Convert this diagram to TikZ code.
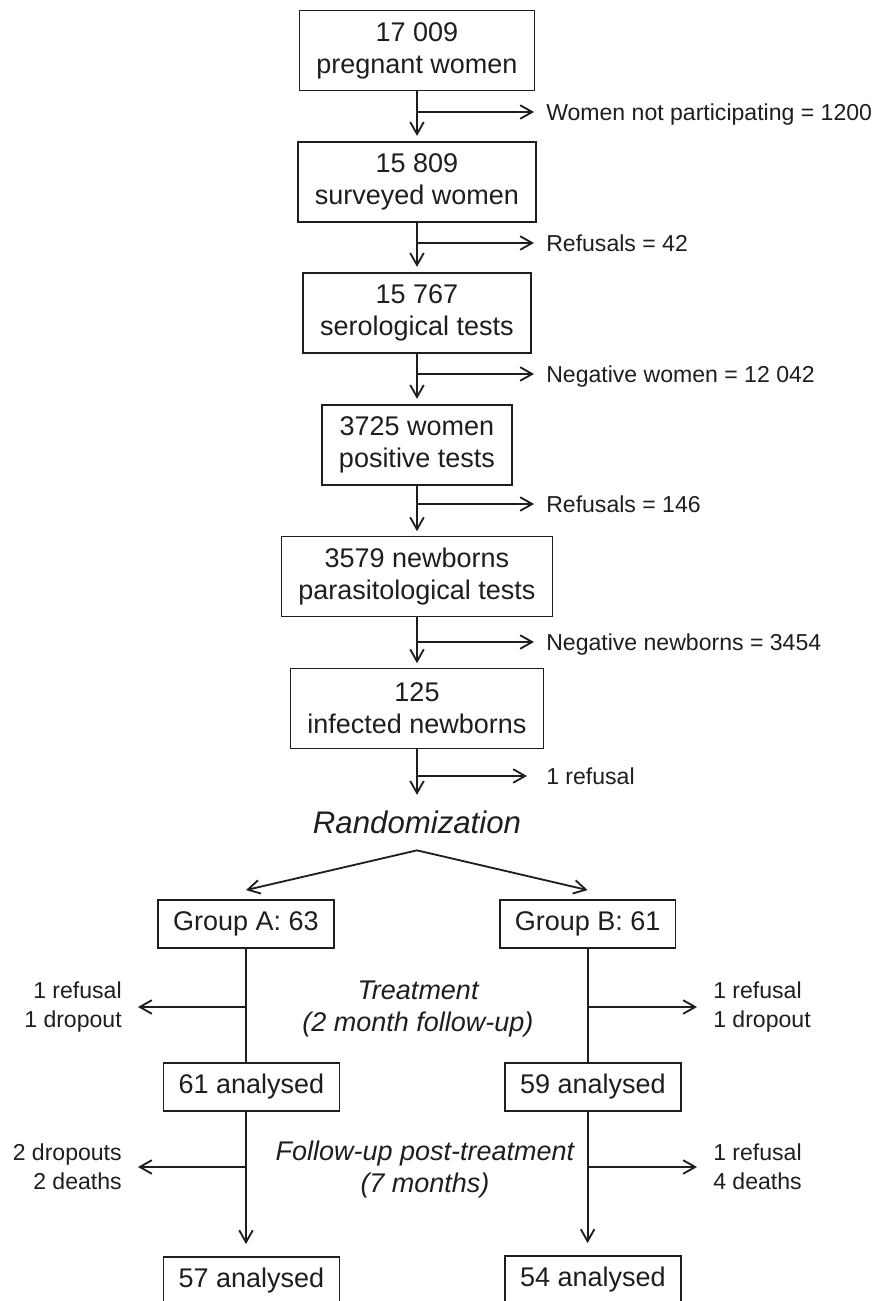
\documentclass[tikz,border=0pt]{standalone}
\usepackage{fontspec}
\setsansfont{Liberation Sans}
\usetikzlibrary{arrows.meta,positioning,calc}
\definecolor{ink}{HTML}{1E1E1E}
\tikzset{
  boxtext/.style={font=\sffamily\fontsize{19.2}{22.8}\selectfont,text=ink},
  flowbox/.style={boxtext,draw=ink,line width=1.3pt,fill=white,align=center,inner xsep=4.25mm,minimum height=2cm},
  smallbox/.style={boxtext,draw=ink,line width=1.3pt,fill=white,inner xsep=3.8mm,minimum height=1.2cm},
  sidefont/.style={font=\sffamily\fontsize{16.4}{20.6}\selectfont,text=ink,inner sep=0pt},
  side/.style={sidefont,anchor=west,text height=0.41cm,text depth=0pt},
  sidetwo/.style={sidefont},
  note/.style={font=\sffamily\itshape\fontsize{19.2}{22.8}\selectfont,text=ink,align=center},
  link/.style={draw=ink,line width=1.3pt},
  arr/.style={-{Straight Barb[length=3mm,width=3.4mm]},draw=ink,line width=1.3pt}
}
\begin{document}
\begin{tikzpicture}[x=1cm,y=1cm]
\path[use as bounding box] (0,0) rectangle (21.925,32.525);
\clip (0,0) rectangle (21.925,32.525);
% screening chain
\node[flowbox] (preg) at (10.425,31.2625) {17 009\\pregnant women};
\node[flowbox] (surv) at (10.425,27.975) {15 809\\surveyed women};
\node[flowbox] (sero) at (10.425,24.7) {15 767\\serological tests};
\node[flowbox] (posi) at (10.425,21.4) {3725 women\\positive tests};
\node[flowbox] (para) at (10.425,18.1125) {3579 newborns\\parasitological tests};
\node[flowbox] (infe) at (10.425,14.8125) {125\\infected newborns};
\node[note,font=\sffamily\itshape\fontsize{22.2}{26}\selectfont,inner ysep=4mm] (rand) at (10.425,11.96) {Randomization};
\node[side] (out1) at (13.65,29.725) {Women not participating = 1200};
\node[side] (out2) at (13.65,26.45) {Refusals = 42};
\node[side] (out3) at (13.65,23.175) {Negative women = 12 042};
\node[side] (out4) at (13.65,19.925) {Refusals = 146};
\node[side] (out5) at (13.65,16.475) {Negative newborns = 3454};
\node[side] (out6) at (13.65,13.125) {1 refusal};
\draw[arr,shorten >=1.3mm] (preg) -- (surv);
\draw[arr,shorten >=1.3mm] (surv) -- (sero);
\draw[arr,shorten >=1.3mm] (sero) -- (posi);
\draw[arr,shorten >=1.1mm] (posi) -- (para);
\draw[arr,shorten >=1.1mm] (para) -- (infe);
\draw[arr] (infe) -- (rand);
\draw[arr] (preg.south |- out1.west) -- ([xshift=-3mm]out1.west);
\draw[arr] (surv.south |- out2.west) -- ([xshift=-3mm]out2.west);
\draw[arr] (sero.south |- out3.west) -- ([xshift=-3mm]out3.west);
\draw[arr] (posi.south |- out4.west) -- ([xshift=-3mm]out4.west);
\draw[arr] (para.south |- out5.west) -- ([xshift=-3mm]out5.west);
\draw[arr] (infe.south |- out6.west) -- ([xshift=-4.75mm]out6.west);
% two arms
\node[smallbox] (grpA) at (6.15,9.43) {Group A: 63};
\node[smallbox] (grpB) at (14.69,9.43) {Group B: 61};
\node[smallbox] (anaA) at (6.2875,5.36) {61 analysed};
\node[smallbox] (anaB) at (14.825,5.36) {59 analysed};
\node[smallbox] (finA) at (6.2875,0.5) {57 analysed};
\node[smallbox] (finB) at (14.825,0.525) {54 analysed};
\draw[arr] (rand.south) -- ([yshift=2.2mm]grpA.north);
\draw[arr] (rand.south) -- ([yshift=2.2mm]grpB.north);
\draw[link] (grpA.south) -- (grpA.south |- anaA.north);
\draw[link] (grpB.south) -- (grpB.south |- anaB.north);
\draw[arr,shorten >=3mm] (grpA.south |- anaA.south) -- (grpA.south |- finA.north);
\draw[arr,shorten >=3mm] (grpB.south |- anaB.south) -- (grpB.south |- finB.north);
\node[note] (treat) at (10.45,7.3) {Treatment\\(2 month follow-up)};
\node[note] (post) at (10.625,3.2875) {Follow-up post-treatment\\(7 months)};
\node[sidetwo,anchor=east,align=right] (lossA1) at (3.05,7.35) {1 refusal\\1 dropout};
\node[sidetwo,anchor=west,align=left] (lossB1) at (17.825,7.35) {1 refusal\\1 dropout};
\node[sidetwo,anchor=east,align=right] (lossA2) at (3.05,3.35) {2 dropouts\\2 deaths};
\node[sidetwo,anchor=west,align=left] (lossB2) at (17.825,3.35) {1 refusal\\4 deaths};
\draw[arr] (grpA.south |- lossA1.east) -- ([xshift=4mm]lossA1.east);
\draw[arr] (grpB.south |- lossB1.west) -- ([xshift=-4mm]lossB1.west);
\draw[arr] (grpA.south |- lossA2.east) -- ([xshift=4mm]lossA2.east);
\draw[arr] (grpB.south |- lossB2.west) -- ([xshift=-4mm]lossB2.west);
\end{tikzpicture}
\end{document}
